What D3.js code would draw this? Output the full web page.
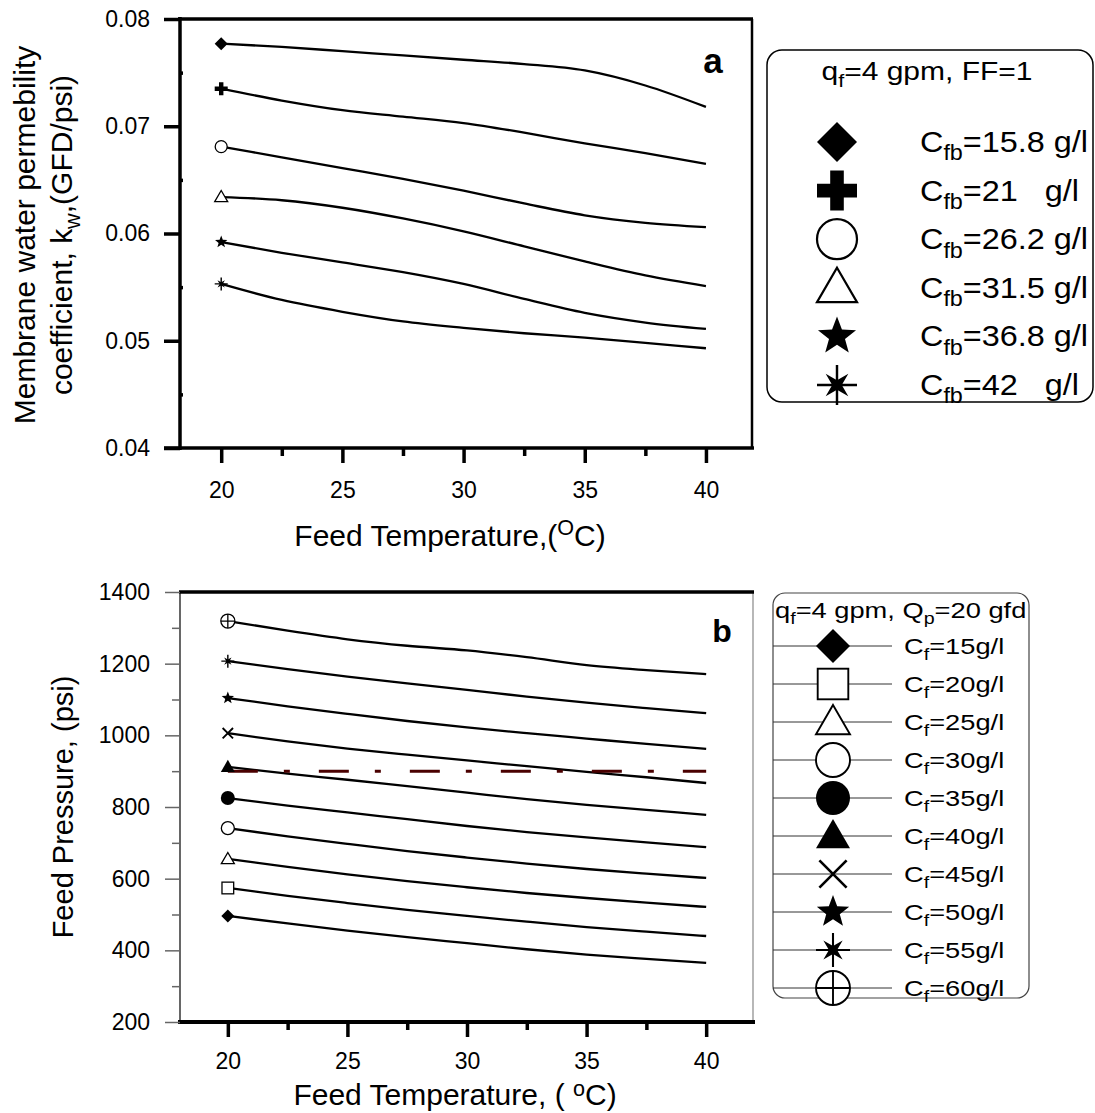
<!DOCTYPE html>
<html lang="en">
<head>
<meta charset="utf-8">
<title>Membrane permeability and feed pressure vs temperature</title>
<script src="https://cdn.jsdelivr.net/npm/d3@7"></script>
<style>
  body { margin: 0; background: #fff; }
  svg text { font-family: "Liberation Sans", Arial, sans-serif; white-space: pre; }
</style>
</head>
<body>
<svg id="chart" width="1095" height="1113"></svg>
<script>
// shared x values
var temps = [20, 22.5, 25, 27.5, 30, 32.5, 35, 37.5, 40];
var tempTicks = [20, 25, 30, 35, 40];
var tempMinor = [22.5, 27.5, 32.5, 37.5];

// panel a : kw vs temperature
var kwLabels = ['15.8 g/l', '21   g/l', '26.2 g/l', '31.5 g/l', '36.8 g/l', '42   g/l'];
var kwMarkers = ['diamond', 'plus', 'circle', 'triangle', 'star', 'asterisk'];
var kw158 = [0.0777, 0.0774, 0.0770, 0.0766, 0.0762, 0.0758, 0.0752, 0.0738, 0.0718];
var kw21  = [0.0735, 0.0724, 0.0715, 0.0709, 0.0703, 0.0694, 0.0684, 0.0675, 0.0665];
var kw262 = [0.0681, 0.0671, 0.0661, 0.0651, 0.0640, 0.0628, 0.0617, 0.0610, 0.0606];
var kw315 = [0.0634, 0.0631, 0.0624, 0.0614, 0.0602, 0.0588, 0.0574, 0.0561, 0.0551];
var kw368 = [0.0592, 0.0582, 0.0573, 0.0564, 0.0553, 0.0539, 0.0526, 0.0517, 0.0511];
var kw42  = [0.0553, 0.0538, 0.0527, 0.0518, 0.0512, 0.0507, 0.0503, 0.0498, 0.0493];
var kwSeries = [kw158, kw21, kw262, kw315, kw368, kw42];
var kwTicks = [0.04, 0.05, 0.06, 0.07, 0.08];
var kwMinor = [0.045, 0.055, 0.065, 0.075];

// panel b : feed pressure vs temperature
var cfLabels = ['15g/l', '20g/l', '25g/l', '30g/l', '35g/l', '40g/l', '45g/l', '50g/l', '55g/l', '60g/l'];
var cfMarkers = ['diamond', 'square', 'triangle', 'circle', 'dot', 'filledTriangle', 'cross', 'star', 'asterisk', 'crossCircle'];
var p15 = [496, 475, 455, 437, 420, 403, 388, 376, 365];
var p20 = [574, 552, 532, 513, 496, 480, 465, 452, 440];
var p25 = [655, 633, 612, 593, 576, 560, 546, 533, 521];
var p30 = [741, 718, 697, 677, 659, 642, 627, 614, 602];
var p35 = [825, 804, 785, 766, 747, 730, 715, 701, 688];
var p40 = [912, 893, 876, 858, 840, 822, 806, 792, 778];
var p45 = [1006, 983, 963, 946, 930, 914, 898, 883, 867];
var p50 = [1104, 1081, 1060, 1040, 1022, 1006, 991, 976, 962];
var p55 = [1207, 1185, 1164, 1145, 1127, 1108, 1091, 1076, 1062];
var p60 = [1319, 1292, 1268, 1250, 1237, 1218, 1196, 1182, 1171];
var pSeries = [p15, p20, p25, p30, p35, p40, p45, p50, p55, p60];
var pTicks = [200, 400, 600, 800, 1000, 1200, 1400];
var pMinor = [300, 500, 700, 900, 1100, 1300];
var pressureLimit = 900;

var svg = d3.select('#chart');
svg.append('rect').attr('width', 1095).attr('height', 1113).attr('fill', '#fff');

function poly(pts) {
  return 'M' + pts.map(function(p) { return p[0].toFixed(2) + ',' + p[1].toFixed(2); }).join('L') + 'Z';
}
function starPts(n, ro, ri, start) {
  var pts = [];
  for (var i = 0; i < n * 2; i++) {
    var a = start + i * Math.PI / n;
    var rr = i % 2 == 0 ? ro : ri;
    pts.push([rr * Math.cos(a), rr * Math.sin(a)]);
  }
  return pts;
}

// draw one marker centred at 0,0 inside g
function drawMarker(g, type, r) {
  var sw = Math.max(1.3, r / 9);
  switch (type) {
    case 'diamond':
      g.append('path').attr('d', poly([[0, -r], [r, 0], [0, r], [-r, 0]])).attr('fill', '#000');
      break;
    case 'plus':
      var t = r * 0.34;
      g.append('path').attr('d', poly([[-t, -r], [t, -r], [t, -t], [r, -t], [r, t], [t, t], [t, r], [-t, r], [-t, t], [-r, t], [-r, -t], [-t, -t]])).attr('fill', '#000');
      break;
    case 'circle':
      g.append('circle').attr('r', r).attr('fill', '#fff').attr('stroke', '#000').attr('stroke-width', sw);
      break;
    case 'dot':
      g.append('circle').attr('r', r).attr('fill', '#000');
      break;
    case 'triangle':
      g.append('path').attr('d', poly([[0, -r], [r, r * 0.72], [-r, r * 0.72]])).attr('fill', '#fff').attr('stroke', '#000').attr('stroke-width', sw);
      break;
    case 'filledTriangle':
      g.append('path').attr('d', poly([[0, -r], [r, r * 0.72], [-r, r * 0.72]])).attr('fill', '#000');
      break;
    case 'square':
      g.append('rect').attr('x', -r * 0.9).attr('y', -r * 0.9).attr('width', r * 1.8).attr('height', r * 1.8)
        .attr('fill', '#fff').attr('stroke', '#000').attr('stroke-width', sw);
      break;
    case 'star':
      g.append('path').attr('d', poly(starPts(5, r, r * 0.42, -Math.PI / 2))).attr('fill', '#000');
      break;
    case 'asterisk':
      g.append('path').attr('d', poly(starPts(4, r * 0.8, r * 0.24, -Math.PI / 4))).attr('fill', '#000');
      g.append('path').attr('d', 'M' + (-r) + ',0H' + r + 'M0,' + (-r) + 'V' + r)
        .attr('stroke', '#000').attr('stroke-width', sw * 1.1).attr('fill', 'none');
      break;
    case 'cross':
      var c = r * 0.8;
      g.append('path').attr('d', 'M' + (-c) + ',' + (-c) + 'L' + c + ',' + c + 'M' + c + ',' + (-c) + 'L' + (-c) + ',' + c)
        .attr('stroke', '#000').attr('stroke-width', sw * 1.4).attr('fill', 'none');
      break;
    case 'crossCircle':
      g.append('circle').attr('r', r).attr('fill', '#fff').attr('stroke', '#000').attr('stroke-width', sw);
      g.append('path').attr('d', 'M' + (-r) + ',0H' + r + 'M0,' + (-r) + 'V' + r)
        .attr('stroke', '#000').attr('stroke-width', sw).attr('fill', 'none');
      break;
  }
}

// text with sub / sup pieces: parts = [[string, 'sub'|'sup'|null], ...]
function richText(parent, x, y, parts, size, anchor, sx, supRaise) {
  var t = parent.append('text')
    .attr('transform', 'translate(' + x + ',' + y + ') scale(' + (sx || 1) + ',1)')
    .attr('font-size', size).attr('text-anchor', anchor || 'start').attr('fill', '#000');
  var shift = 0;
  parts.forEach(function(p) {
    var s = t.append('tspan').text(p[0]);
    var target = p[1] == 'sub' ? size * 0.28 : p[1] == 'sup' ? -size * (supRaise || 0.38) : 0;
    s.attr('dy', target - shift);
    shift = target;
    if (p[1]) s.attr('font-size', size * 0.72);
  });
  return t;
}

var line = d3.line().curve(d3.curveMonotoneX);

// ---------------- panel a ----------------
var xA = d3.scaleLinear().domain([18.3, 41.9]).range([180, 752]);
var yA = d3.scaleLinear().domain([0.04, 0.08]).range([448, 19]);

var gA = svg.append('g');
kwSeries.forEach(function(vals, i) {
  gA.append('path')
    .attr('d', line(temps.map(function(t, j) { return [xA(t), yA(vals[j])]; })))
    .attr('fill', 'none').attr('stroke', '#000').attr('stroke-width', 2.3);
});
kwSeries.forEach(function(vals, i) {
  var m = gA.append('g').attr('transform', 'translate(' + xA(temps[0]) + ',' + yA(vals[0]) + ')');
  drawMarker(m, kwMarkers[i], i == 2 ? 6 : 6.5);
});

// frame
gA.append('line').attr('x1', 180).attr('x2', 180).attr('y1', 17).attr('y2', 450).attr('stroke', '#000').attr('stroke-width', 3.5);
gA.append('line').attr('x1', 178).attr('x2', 753).attr('y1', 19).attr('y2', 19).attr('stroke', '#000').attr('stroke-width', 3.5);
gA.append('line').attr('x1', 752).attr('x2', 752).attr('y1', 19).attr('y2', 448).attr('stroke', '#000').attr('stroke-width', 2.5);
gA.append('line').attr('x1', 164).attr('x2', 754).attr('y1', 448).attr('y2', 448).attr('stroke', '#000').attr('stroke-width', 3.5);

var axA = gA.append('g').attr('transform', 'translate(0,448)')
  .call(d3.axisBottom(xA).tickValues(tempTicks).tickSize(15).tickPadding(19).tickFormat(d3.format('d')));
var axAm = gA.append('g').attr('transform', 'translate(0,448)')
  .call(d3.axisBottom(xA).tickValues(tempMinor).tickSize(8).tickFormat(''));
var ayA = gA.append('g').attr('transform', 'translate(180,0)')
  .call(d3.axisLeft(yA).tickValues(kwTicks).tickSize(16).tickPadding(14).tickFormat(d3.format('.2f')));
var ayAm = gA.append('g').attr('transform', 'translate(180,0)')
  .call(d3.axisRight(yA).tickValues(kwMinor).tickSize(3).tickFormat(''));
[axA, axAm, ayA, ayAm].forEach(function(a) {
  a.select('.domain').remove();
  a.selectAll('line').attr('stroke', '#000').attr('stroke-width', 3.5);
  a.attr('font-size', 23).attr('font-family', '"Liberation Sans", Arial, sans-serif');
  a.selectAll('text').attr('fill', '#000');
});

gA.append('text').attr('x', 713).attr('y', 73).attr('text-anchor', 'middle')
  .attr('font-size', 35).attr('font-weight', 'bold').text('a');

richText(gA.append('g').attr('transform', 'translate(35,235) rotate(-90)'), 0, 0,
  [['Membrane water permebility', null]], 30, 'middle');
richText(gA.append('g').attr('transform', 'translate(72,235) rotate(-90)'), 0, 0,
  [['coefficient, k', null], ['w', 'sub'], [',(GFD/psi)', null]], 30, 'middle');
richText(gA, 450, 546, [['Feed Temperature,(', null], ['O', 'sup'], ['C)', null]], 30, 'middle');

// legend a
var lgA = svg.append('g');
lgA.append('rect').attr('x', 767).attr('y', 50).attr('width', 326).attr('height', 352).attr('rx', 15)
  .attr('fill', 'none').attr('stroke', '#000').attr('stroke-width', 1.5);
richText(lgA, 927, 80, [['q', null], ['f', 'sub'], ['=4 gpm, FF=1', null]], 25, 'middle', 1.2);
var lgAy = d3.scalePoint().domain(d3.range(kwLabels.length)).range([142, 385]);
kwLabels.forEach(function(lab, i) {
  var m = lgA.append('g').attr('transform', 'translate(837,' + lgAy(i) + ')');
  drawMarker(m, kwMarkers[i], 20);
  richText(lgA, 920, lgAy(i) + 10, [['C', null], ['fb', 'sub'], ['=' + lab, null]], 30, 'start', 1.08);
});

// ---------------- panel b ----------------
var xB = d3.scaleLinear().domain([18, 42]).range([180, 754]);
var yB = d3.scaleLinear().domain([200, 1400]).range([1022, 592]);

var gB = svg.append('g');
pSeries.forEach(function(vals) {
  gB.append('path')
    .attr('d', line(temps.map(function(t, j) { return [xB(t), yB(vals[j])]; })))
    .attr('fill', 'none').attr('stroke', '#000').attr('stroke-width', 2.3);
});
gB.append('line')
  .attr('x1', xB(20)).attr('x2', xB(40)).attr('y1', yB(pressureLimit)).attr('y2', yB(pressureLimit))
  .attr('stroke', '#4a0000').attr('stroke-width', 3).attr('stroke-dasharray', '30,26,6,29');
pSeries.forEach(function(vals, i) {
  var m = gB.append('g').attr('transform', 'translate(' + xB(temps[0]) + ',' + yB(vals[0]) + ')');
  drawMarker(m, cfMarkers[i], i == 4 || i == 5 || i == 9 ? 7 : 6.5);
});

// frame
gB.append('line').attr('x1', 180).attr('x2', 180).attr('y1', 592).attr('y2', 1022).attr('stroke', '#000').attr('stroke-width', 1.2);
gB.append('line').attr('x1', 753).attr('x2', 753).attr('y1', 592).attr('y2', 1022).attr('stroke', '#888').attr('stroke-width', 1.2);
gB.append('line').attr('x1', 179).attr('x2', 754).attr('y1', 592).attr('y2', 592).attr('stroke', '#000').attr('stroke-width', 3.5);
gB.append('line').attr('x1', 178).attr('x2', 755).attr('y1', 1022).attr('y2', 1022).attr('stroke', '#000').attr('stroke-width', 4);

var axB = gB.append('g').attr('transform', 'translate(0,1022)')
  .call(d3.axisBottom(xB).tickValues(tempTicks).tickSize(15).tickPadding(16).tickFormat(d3.format('d')));
var axBm = gB.append('g').attr('transform', 'translate(0,1022)')
  .call(d3.axisBottom(xB).tickValues(tempMinor).tickSize(8).tickFormat(''));
var ayB = gB.append('g').attr('transform', 'translate(180,0)')
  .call(d3.axisLeft(yB).tickValues(pTicks).tickSize(15).tickPadding(15).tickFormat(d3.format('d')));
var ayBm = gB.append('g').attr('transform', 'translate(180,0)')
  .call(d3.axisLeft(yB).tickValues(pMinor).tickSize(8).tickFormat(''));
[axB, axBm].forEach(function(a) {
  a.selectAll('line').attr('stroke', '#000').attr('stroke-width', 3.5);
});
[ayB, ayBm].forEach(function(a) {
  a.selectAll('line').attr('stroke', '#666').attr('stroke-width', 1.5);
});
[axB, axBm, ayB, ayBm].forEach(function(a) {
  a.select('.domain').remove();
  a.attr('font-size', 23).attr('font-family', '"Liberation Sans", Arial, sans-serif');
  a.selectAll('text').attr('fill', '#000');
});

gB.append('text').attr('x', 722).attr('y', 642).attr('text-anchor', 'middle')
  .attr('font-size', 32).attr('font-weight', 'bold').text('b');

richText(gB.append('g').attr('transform', 'translate(73,807) rotate(-90)'), 0, 0,
  [['Feed Pressure, (psi)', null]], 29, 'middle');
richText(gB, 455, 1105, [['Feed Temperature, ( ', null], ['o', 'sup'], ['C)', null]], 30, 'middle', 1, 0.3);

// legend b
var lgB = svg.append('g');
lgB.append('rect').attr('x', 773).attr('y', 593).attr('width', 256).attr('height', 405).attr('rx', 12)
  .attr('fill', 'none').attr('stroke', '#444').attr('stroke-width', 1.2);
richText(lgB, 775, 618, [['q', null], ['f', 'sub'], ['=4 gpm, Q', null], ['p', 'sub'], ['=20 gfd', null]], 22, 'start', 1.24);
var lgBy = d3.scalePoint().domain(d3.range(cfLabels.length)).range([646, 988]);
cfLabels.forEach(function(lab, i) {
  lgB.append('line').attr('x1', 773).attr('x2', 892).attr('y1', lgBy(i)).attr('y2', lgBy(i))
    .attr('stroke', '#333').attr('stroke-width', 1);
  var m = lgB.append('g').attr('transform', 'translate(833,' + lgBy(i) + ')');
  drawMarker(m, cfMarkers[i], 17);
  richText(lgB, 904, lgBy(i) + 8, [['C', null], ['f', 'sub'], ['=' + lab, null]], 22, 'start', 1.24);
});
</script>
</body>
</html>
